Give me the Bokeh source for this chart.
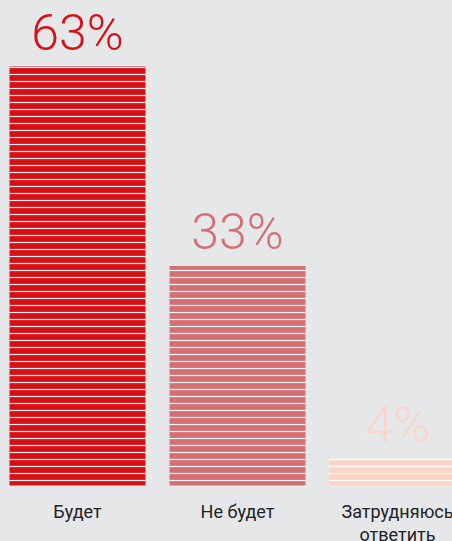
from bokeh.plotting import figure
from bokeh.models import ColumnDataSource, Range1d
from bokeh.core.properties import value
from bokeh.embed import file_html
from bokeh.resources import INLINE

categories = ["Будет", "Не будет", "Затрудняюсь ответить"]
values = [63, 33, 4]
bar_colors = ["#d71016", "#d47073", "#fad4c6"]
label_colors = ["#d71016", "#d47073", "#fad6ca"]

BG = "#e6e7e9"

xs = list(range(len(categories)))
pct = [f"{v}%" for v in values]
cat_lines = [c.replace(" ", "\n") if len(c) > 12 else c for c in categories]

src = ColumnDataSource(dict(x=xs, top=values, color=bar_colors, lcolor=label_colors,
                            pct=pct, cat=cat_lines, zero=[0] * len(xs)))

p = figure(width=452, height=541, output_backend="svg", toolbar_location=None,
           x_range=Range1d(-0.48125, 2.34375), y_range=Range1d(-8.42, 72.93),
           min_border=0)
p.background_fill_color = BG
p.border_fill_color = BG
p.outline_line_color = None
p.axis.visible = False
p.grid.visible = False

p.vbar(x="x", top="top", width=0.85, fill_color="color", line_color=None, source=src,
       hatch_pattern="horizontal_line", hatch_color="white", hatch_scale=7,
       hatch_weight=1.2, hatch_alpha=0.95)

p.text(x="x", y="top", text="pct", text_color="lcolor", source=src,
       text_align="center", text_baseline="alphabetic", y_offset=-34,
       text_font=value("Roboto Light"), text_font_size="50px")

p.text(x="x", y="zero", text="cat", text_color="#222222", source=src,
       text_align="center", text_baseline="top", y_offset=15, text_line_height=1.1,
       text_font=value("Roboto"), text_font_size="18px")

html = file_html(p, INLINE)
html = html.replace("</head>",
                    f"<style>html,body{{margin:0;padding:0;background:{BG};overflow:hidden;}}</style></head>", 1)
open("out.html", "w").write(html)
